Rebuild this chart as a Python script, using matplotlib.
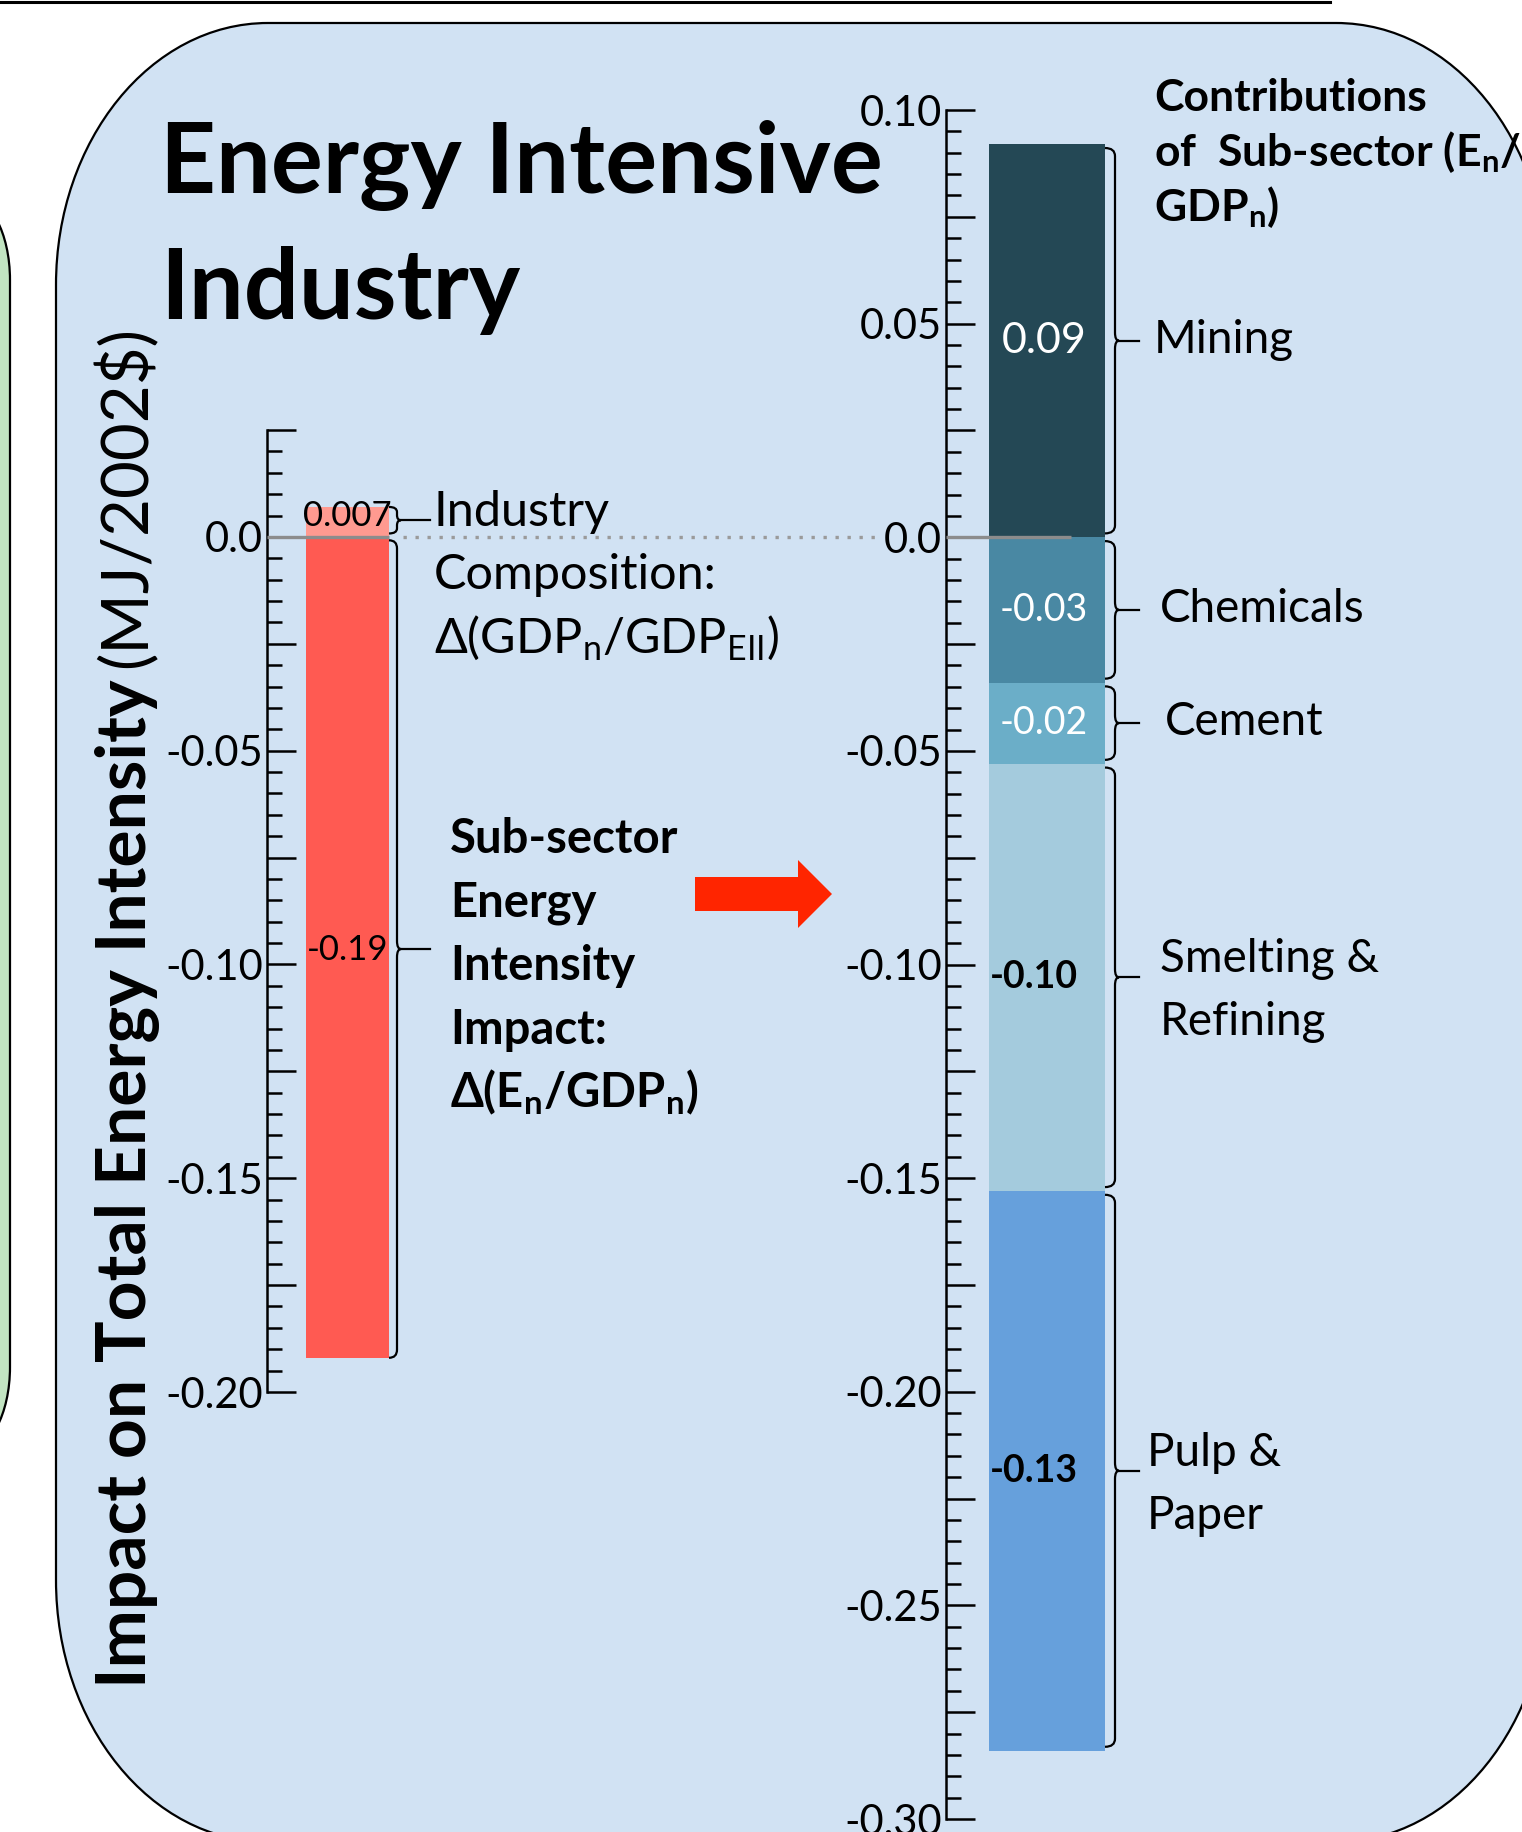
import matplotlib
matplotlib.use("Agg")
import matplotlib.pyplot as plt
from matplotlib.path import Path
from matplotlib.patches import PathPatch, Polygon
from matplotlib.lines import Line2D
from matplotlib.transforms import Affine2D, offset_copy
from matplotlib.ticker import MultipleLocator, FuncFormatter

plt.rcParams['font.family'] = ['Lato', 'DejaVu Sans']
plt.rcParams['mathtext.fontset'] = 'custom'
plt.rcParams['mathtext.rm'] = 'Lato'
plt.rcParams['mathtext.bf'] = 'Lato:bold'
plt.rcParams['mathtext.it'] = 'Lato:italic'

# change in energy intensity of energy intensive industry (MJ/2002$)
composition_effect = 0.007
subsectors = ["Mining", "Chemicals", "Cement", "Smelting &\nRefining", "Pulp &\nPaper"]
subsector_effect = [0.092, -0.034, -0.019, -0.100, -0.131]
intensity_effect = sum(subsector_effect)

subsector_colors = ["#244855", "#4988A3", "#6BAEC8", "#A4CBDD", "#66A0DC"]
value_colors = ["white", "white", "white", "black", "black"]
value_weights = ["normal", "normal", "normal", "bold", "bold"]

W, H = 1522, 1832
fig = plt.figure(figsize=(W / 100, H / 100), dpi=100)
# pixel coordinates, origin top-left
PX = Affine2D().scale(1 / W, -1 / H).translate(0, 1) + fig.transFigure


def rounded_box(x0, y0, x1, y1, rx, ry):
    k = 0.5523
    v = [(x0 + rx, y0), (x1 - rx, y0),
         (x1 - rx + k * rx, y0), (x1, y0 + ry - k * ry), (x1, y0 + ry),
         (x1, y1 - ry),
         (x1, y1 - ry + k * ry), (x1 - rx + k * rx, y1), (x1 - rx, y1),
         (x0 + rx, y1),
         (x0 + rx - k * rx, y1), (x0, y1 - ry + k * ry), (x0, y1 - ry),
         (x0, y0 + ry),
         (x0, y0 + ry - k * ry), (x0 + rx - k * rx, y0), (x0 + rx, y0),
         (x0 + rx, y0)]
    c = [Path.MOVETO, Path.LINETO] + [Path.CURVE4] * 3 + [Path.LINETO] + [Path.CURVE4] * 3 + \
        [Path.LINETO] + [Path.CURVE4] * 3 + [Path.LINETO] + [Path.CURVE4] * 3 + [Path.CLOSEPOLY]
    return Path(v, c)


# background panels
fig.add_artist(PathPatch(rounded_box(-300, 195, 10, 1452, 45, 85), transform=PX,
                         fc="#C2E5C2", ec="black", lw=1.6, zorder=-2))
fig.add_artist(PathPatch(rounded_box(56, 23, 1548, 1842, 212, 262), transform=PX,
                         fc="#D1E2F3", ec="black", lw=1.6, zorder=-2))
fig.add_artist(Line2D([0, 1330], [1.5, 1.5], transform=PX, color="black", lw=2.2, zorder=-1))

# title
fig.text(160, 193, "Energy Intensive", transform=PX, fontsize=70, fontweight="bold", va="baseline")
fig.text(160, 319, "Industry", transform=PX, fontsize=70, fontweight="bold", va="baseline")


def make_axes(left, top, width, bottom, ylim):
    ax = fig.add_axes([left / W, 1 - bottom / H, width / W, (bottom - top) / H])
    ax.set_xlim(0, width)
    ax.set_ylim(*ylim)
    ax.patch.set_visible(False)
    for s in ["top", "right", "bottom"]:
        ax.spines[s].set_visible(False)
    ax.spines["left"].set_linewidth(1.8)
    ax.set_xticks([])
    ax.yaxis.set_major_locator(MultipleLocator(0.025))
    ax.yaxis.set_minor_locator(MultipleLocator(0.005))

    def fmt(v, pos):
        k = round(v / 0.025)
        if k % 2:
            return ""
        if k == 0:
            return "0.0"
        return f"{v:.2f}"
    ax.yaxis.set_major_formatter(FuncFormatter(fmt))
    ax.tick_params(axis="y", which="major", direction="in", length=21, width=1.8,
                   labelsize=30, pad=3)
    ax.tick_params(axis="y", which="minor", direction="in", length=11, width=1.8)
    return ax


ax_l = make_axes(267, 430, 220, 1392, (-0.20, 0.025))
ax_r = make_axes(946, 110, 300, 1819, (-0.30, 0.10))


def brace(ax, x0, x1, y_top, y_bot, tip, h=0.0019):
    xm = x1 + 4
    ym = (y_top + y_bot) / 2
    verts = [(x0, y_top), (x1, y_top), (x1, y_top - h),
             (x1, ym + h), (x1, ym), (xm, ym),
             (x1, ym), (x1, ym - h),
             (x1, y_bot + h), (x1, y_bot), (x0, y_bot)]
    codes = [Path.MOVETO, Path.CURVE3, Path.CURVE3, Path.LINETO, Path.CURVE3, Path.CURVE3,
             Path.CURVE3, Path.CURVE3, Path.LINETO, Path.CURVE3, Path.CURVE3]
    ax.add_patch(PathPatch(Path(verts, codes), fill=False, lw=1.6, ec="black", clip_on=False, zorder=4))
    ax.plot([xm, tip], [ym, ym], color="black", lw=1.6, clip_on=False, zorder=4)
    return ym


# left column: composition vs sub-sector intensity
bar_l = 80.5
ax_l.bar(bar_l, composition_effect, 83, bottom=0, color="#FF9A90", zorder=2)
ax_l.bar(bar_l, intensity_effect, 83, bottom=0, color="#FF5A52", zorder=2)
ax_l.plot([0, 122], [0, 0], color="#8C8C8C", lw=2.4, solid_capstyle="butt", zorder=3)
ax_l.text(bar_l, 0.005, f"{composition_effect:.3f}", ha="center", va="center", fontsize=25, zorder=5)
ax_l.text(bar_l, intensity_effect / 2, f"{intensity_effect:.2f}", ha="center", va="center_baseline",
          fontsize=25, zorder=5)
brace(ax_l, 122, 130, composition_effect, 0.0008, 163, h=0.0012)
brace(ax_l, 122, 130, -0.0008, intensity_effect, 163)

fig.text(434, 526, "Industry", transform=PX, fontsize=35, va="baseline")
fig.text(434, 589, "Composition:", transform=PX, fontsize=35, va="baseline")
fig.text(434, 653, r"Δ(GDP$_\mathregular{n}$/GDP$_\mathregular{EII}$)", transform=PX,
         fontsize=35, va="baseline")
for i, line in enumerate(["Sub-sector", "Energy", "Intensity", "Impact:",
                          r"Δ(E$_\mathregular{n}$/GDP$_\mathregular{n}$)"]):
    fig.text(450, 853 + 63.5 * i, line, transform=PX, fontsize=34, fontweight="bold", va="baseline")

# arrow towards the sub-sector breakdown
fig.add_artist(Polygon([(695, 877), (798, 877), (798, 860), (832, 894), (798, 928), (798, 911),
                        (695, 911)], closed=True, transform=PX, fc="#FF2500", ec="none"))

# right column: stacked sub-sector contributions
bar_r, width_r = 101, 116
pos, neg = 0.0, 0.0
label_x = [208, 214, 219, 214, 201]
for i, v in enumerate(subsector_effect):
    if v >= 0:
        b = pos
        pos += v
    else:
        b = neg
        neg += v
    ax_r.bar(bar_r, v, width_r, bottom=b, color=subsector_colors[i], zorder=2)
    y_top, y_bot = max(b, b + v), min(b, b + v)
    ym = brace(ax_r, 159, 169, y_top - 0.0009, y_bot + 0.0009, 193)
    if value_weights[i] == "bold":
        ax_r.text(bar_r - width_r / 2 + 1, ym, f"{v:.2f}", ha="left", va="center", fontsize=27,
                  color=value_colors[i], fontweight="bold", zorder=5)
    else:
        ax_r.text(bar_r - 3, ym, f"{v:.2f}", ha="center", va="center", fontsize=31 if v > 0 else 27,
                  color=value_colors[i], zorder=5)
    lines = subsectors[i].split("\n")
    offsets = [-12] if len(lines) == 1 else [5, -58]
    for line, dy in zip(lines, offsets):
        tr = offset_copy(ax_r.transData, fig=fig, y=dy, units="dots")
        ax_r.text(label_x[i], ym, line, transform=tr, fontsize=33, va="baseline", clip_on=False)

ax_r.plot([0, 125], [0, 0], color="#8C8C8C", lw=2.4, solid_capstyle="butt", zorder=3)
ax_r.plot([403 - 946, 882 - 946], [0, 0], color="#9A9A9A", lw=2.4, ls=(0, (1, 2.6)),
          clip_on=False, zorder=3)

for i, line in enumerate(["Contributions", r"of  Sub-sector (E$_\mathregular{n}$/",
                          r"GDP$_\mathregular{n}$)"]):
    fig.text(1154, 111 + 55 * i, line, transform=PX, fontsize=32, fontweight="bold", va="baseline")

# axis title, bold part followed by the units
t1 = fig.text(146, 1688, "Impact on Total Energy Intensity", transform=PX, rotation=90,
              rotation_mode="anchor", ha="left", va="baseline", fontsize=50, fontweight="bold")
fig.canvas.draw()
bb = t1.get_window_extent(fig.canvas.get_renderer())
fig.text(146 / W, (bb.y1 + 12) / H, "(MJ/2002$)", rotation=90, rotation_mode="anchor",
         ha="left", va="baseline", fontsize=47, parse_math=False)

fig.savefig("out.png", dpi=100)
